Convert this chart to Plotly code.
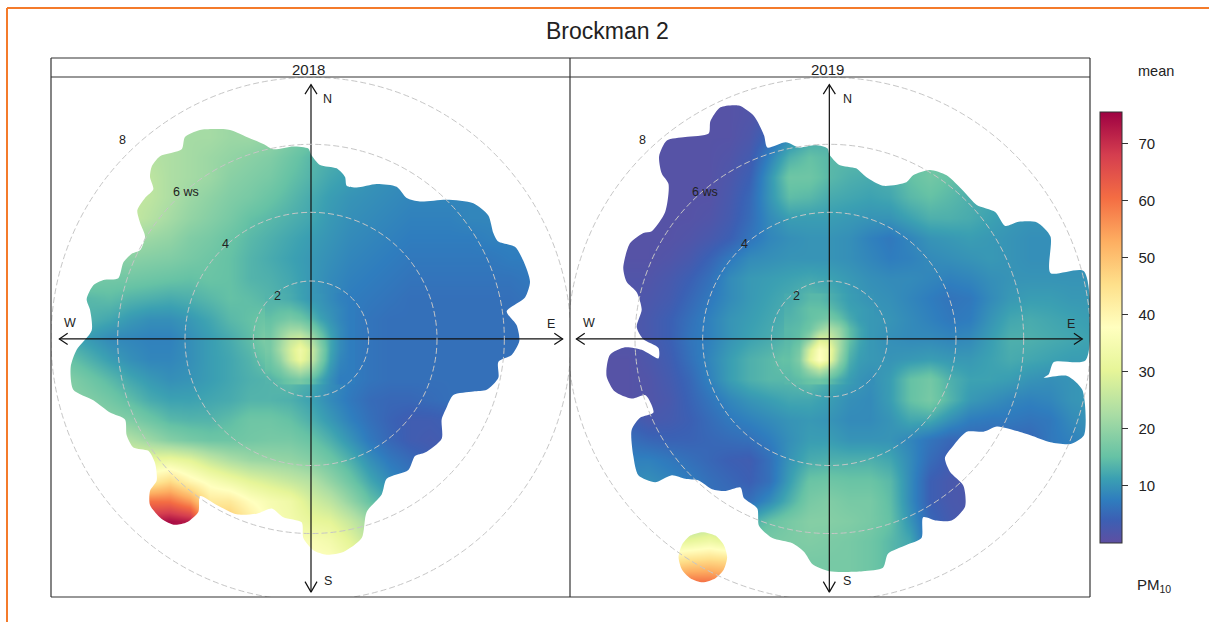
import plotly.graph_objects as go

# Grid of the two polar surfaces (chart units; 60 wide, 58 high per cell)
grid_x = [i * 60 for i in range(27)]
grid_y = [60 + i * 58 for i in range(27)]

pm10_2018 = [
 [23,23,23,23,23,23,23,22,22,21,21,20,18,16,15,14,13,12,11,10,10,10,10,10,10,10,10],
 [23,23,23,23,23,23,23,22,22,21,21,20,18,16,15,14,13,12,11,10,10,10,10,10,10,10,10],
 [23,23,23,23,23,23,23,22,22,21,21,20,18,16,15,14,13,12,11,10,10,10,10,10,10,10,10],
 [23,23,23,23,23,23,23,22,22,21,21,20,18,16,15,14,13,12,11,10,10,10,10,10,10,10,10],
 [24,24,24,24,24,24,23,22,21,20,19,18,16,14,13,12,11,10,10,9,9,9,9,9,9,9,9],
 [25,25,25,25,25,25,23,22,21,19,18,17,15,13.5,12,11,10,9.5,9,9,9,9,9,9,9,9,9],
 [26,26,26,26,26,25,23,21,19.5,18,17,15.5,14,12.5,11,10,9.5,9,8.5,8.5,8.5,8.5,8.5,8.5,8.5,8.5,8.5],
 [26,26,26,26,26,24,22,20,18.5,17,15,14,13,12,10.5,9.5,9,8.5,8,8,8,8.5,8.5,8.5,8.5,8.5,8.5],
 [22,22,22,22,22,21,20,18,17,15.5,14,13,12,11,10,9,8.5,8,7.5,7.5,7.5,7.5,8,8,8,8,8],
 [19,19,19,19,19,18.5,18,17,16,15,13.5,12.5,11.5,10.5,9.5,8.5,8,7.5,7,7,7,7,7,7.5,7.5,7.5,7.5],
 [17,17,17,16.5,16.5,16,15.5,15,15.5,15,13.5,13,12,10.5,9,8,7.5,7,6.5,6.5,6.5,6.5,6.5,6.5,7,7,7],
 [14,14,14,14.5,13.5,13,12.5,13,14,15,14.5,13.5,12.5,10.5,9,7.5,7,6.5,6,6,6,6,6,6,6.5,6.5,6.5],
 [13,13,13,12,10.5,9.5,9.5,10.5,12,14,15,16,18,14,10,7.5,6.5,6,6,6,6,6,6,6,6,6,6],
 [12,12,10.5,9,8.5,8,8,9.5,11,12.5,14.5,19,30,22,11,7.5,6.5,6,6,6,6,6,6,6,6,6,6],
 [15,15,13,11,9.5,8.5,8.5,9.5,11,12,13.5,16,33,24,10,7.5,6.5,6,6,6,6,6,6,6,6,6,6],
 [18,18,16,14,12,10.5,9.5,10,11,12,13,13.5,14.5,13,9.5,7.5,6.5,6,6,6,6,6,6,6,6,6,6],
 [19,19,18,16.5,14.5,12.5,11.5,11.5,12,12.5,13.5,13.5,13,11.5,9,7,5.5,5,5,5.5,6,6,6,6,6,6,6],
 [20,20,20,19,18,16,14,13.5,13.5,14.5,16,16,15,13,10.5,8,6,4.5,3.5,3.5,4,4,4,4,4,4,4],
 [24,24,24,24,23.5,21,18.5,17,16,16,16.5,17,17,15.5,13,10,7,5,3.5,3,3.5,4,4,4,4,4,4],
 [30,30,30,30,30,31,32,30,26,23,21,20.5,20,18.5,16,13,9.5,7,5.5,4,4,4,4,4,4,4,4],
 [40,40,40,40,40,42,46,40,36,33,30,28,26,24,20,16,12,9,7,5,5,5,5,5,5,5,5],
 [60,60,60,60,60,60,60,55,43,43,38,35,33,28,25,20,15,12,10,10,10,10,10,10,10,10,10],
 [72,72,72,72,72,72,74,72,50,50,43,36,34,31,30,26,21,15,15,15,15,15,15,15,15,15,15],
 [75,75,75,75,75,75,75,75,40,40,40,40,36,36,34,30,25,25,25,25,25,25,25,25,25,25,25],
 [75,75,75,75,75,75,75,75,40,40,40,40,38,38,37,33,25,25,25,25,25,25,25,25,25,25,25],
 [75,75,75,75,75,75,75,75,40,40,40,40,38,38,37,33,25,25,25,25,25,25,25,25,25,25,25],
 [75,75,75,75,75,75,75,75,40,40,40,40,38,38,37,33,25,25,25,25,25,25,25,25,25,25,25],
]

pm10_2019 = [
 [1,1,1,1,1,1,1,1,1,1.5,2.5,5,8,10,11,12,12,12,12,12,12,12,12,12,12,12,12],
 [1,1,1,1,1,1,1,1,1,1.5,2.5,5,8,10,11,12,12,12,12,12,12,12,12,12,12,12,12],
 [1,1,1,1,1,1,1,1,1,1.5,2.5,5,8,10,11,12,12,12,12,12,12,12,12,12,12,12,12],
 [1,1,1,1,1,1,1,1,1,2,5,9,12,13,13,14,14,14,14,14,14,14,14,14,14,14,14],
 [1,1,1,1,1,1,1,1,1.5,3,8,13,15,14,14,14,14,15,16,15,14,13,13,13,13,13,13],
 [1,1,1,1,1,1,1,1,2,4,10,16,16,14,13,12.5,13,15,16.5,15,13.5,12,12,12,12,12,12],
 [1,1,1,1,1,1,1,1,2.5,5,10,14.5,14,12.5,12,11.5,12,14,15,14,13,12,11,11,11,11,11],
 [1,1,1,1,1,1,1,1.5,3,5.5,9,11,11,11,10.5,10,10,11.5,13,13,12.5,11.5,10.5,10,10,10,10],
 [1,1,1,1,1,1,1.5,2.5,4,6.5,8.5,9.5,10,10,9.5,8,7,8.5,10,10.5,11,10.5,10,9.5,9.5,9.5,9.5],
 [1,1,1,1,1,1.5,2.5,4.5,7,9,9.5,10,10,10,9.5,8.5,7.5,8,9,9.5,10,10.5,10,9.5,9.5,9.5,9.5],
 [1.5,1.5,1.5,1.5,1.5,2.5,4,6,9,10.5,11,11.5,12,11.5,10.5,9.5,9,9,8.5,8,8.5,9.5,10,10,10,10,10],
 [1.5,1.5,1.5,1.5,2,3,5,7,9,10.5,11.5,12.5,14,13,11,10,9.5,8.5,7.5,6.5,7,9,10.5,11,11,10.5,10.5],
 [1.5,1.5,1.5,1.5,2.5,4,6,8,10,11,12,13,15,17,12.5,10.5,10,9,8,7,7.5,10,12,12.5,12,11.5,11],
 [1.5,1.5,1.5,1.5,2.5,4,6.5,8,10,11.5,12.5,14,26,25,14,10.5,9.5,9,9,8.5,9,11,13,13,12.5,12,11.5],
 [1,1,1,1,2,3.5,6,8.5,11,13,14,15.5,37,30,13,10.5,10,10.5,11,10.5,10.5,11.5,12.5,12,11.5,11,11],
 [1,1,1,1,1.5,3,5,8,11,13,14,14,15,13,11,9.5,11,15,16.5,13,11.5,11.5,11,10,9.5,10,10.5],
 [1,1,1,1,1.5,2.5,4.5,6.5,8.5,10,11,12,12,11,9.5,9,11,15,17,13.5,10.5,9.5,8.5,8,8.5,10,10.5],
 [4,4,4,4,2.5,3,4,5.5,7,8,9,10,10.5,10,9,9,10,12,12,9.5,7.5,7,7,6.5,7,9,10],
 [6,6,6,6,5,4.5,4.5,5,5.5,6,7.5,9.5,11,11,10,10,10,8.5,6.5,5,5,5,5,5,7,8,9],
 [8,8,8,8,8,7,6,5,4,3.5,6,10,12.5,13,13,13,12,9,5.5,3.5,5,5,5,5,7,8,9],
 [9,9,9,9,9.5,8.5,7.5,6,5,4,6,11,15.5,16,15.5,15.5,14,9,4,2.5,2,5,5,5,7,8,9],
 [9,9,9,9,9.5,8.5,7.5,6,6,6,9,13,17,18,17,17,14.5,9,4,2.5,2,5,5,5,7,8,9],
 [20,20,20,20,20,20,20,22,20,12,15,17,18.5,18.5,18,17,15,10,5,3,2,5,5,5,7,8,9],
 [30,30,30,30,30,30,31,33,30,17,17,17.5,18,17.5,17,16,14,12,5,3,2,5,5,5,7,8,9],
 [44,44,44,44,44,44,46,47,46,18,18,17.5,17,17,17,16,14,12,5,3,2,5,5,5,7,8,9],
 [58,58,58,58,58,58,60,60,58,18,18,17,17,17,17,16,14,12,5,3,2,5,5,5,7,8,9],
 [70,70,70,70,70,70,70,70,70,18,18,17,17,17,17,16,14,12,5,3,2,5,5,5,7,8,9],
]

# Finer reading of the calm-wind core of each panel
core_x = [660, 690, 720, 750, 780, 810, 840, 870, 900]
core_y = [698, 727, 756, 785, 814, 843, 872, 901, 930]
core_2018 = [
 [13.5,13,12.5,11.5,10.5,10,9,8,7.5],
 [14,14.5,14.5,13.5,12,10.5,9.5,8.5,7.5],
 [15,16,17,16,14,11.5,10,8.5,7.5],
 [16,19,21,21,18,14,11,9,7.5],
 [17,21,26,28,24,17,12,9,7.5],
 [17,22,28,33,28,19,12,9,7.5],
 [16,20,27,32,27,18,11.5,8.5,7.5],
 [15,17,21,24,21,15,10.5,8,7.5],
 [13.5,14.5,16,17,15,12,9.5,7.5,7.5],
]
core_2019 = [
 [12.5,13,14,14,13,12,11,10.5,10],
 [13,14,15,15,14.5,13,11.5,11,10.5],
 [13.5,14,15,16,17,15,12.5,11,10.5],
 [14,14.5,16,20,23,20,14.5,12,10.5],
 [14,15,20,29,28,22,15,12,10.5],
 [14.5,17,28,37,33,22,14,11.5,10.5],
 [15,18,30,38,32,20,13,11,10.5],
 [14.5,16,21,25,21,16,12,10.5,10],
 [14,14.5,15.5,16,14.5,12.5,11,10,9.5],
]

# Edges of the surfaces (clockwise), same chart units
edge_2018_x = [783,810,860,885,890,920,980,1040,1070,1110,1190,1270,1315,1330,1345,1395,1420,1440,1425,1370,1400,1408,1385,1345,1345,1310,1270,1210,1190,1175,1175,1125,1095,1075,1010,995,950,935,880,830,790,760,755,700,665,620,560,500,450,445,410,375,335,300,300,320,315,295,250,230,225,180,130,70,62,80,125,120,110,130,160,205,220,245,270,285,270,262,285,310,300,305,330,395,405,450,540,590,640,670,730,775]
edge_2018_y = [285,315,325,350,375,380,370,378,410,420,415,425,460,510,535,550,590,650,695,735,775,820,860,880,925,960,965,975,1010,1045,1100,1140,1150,1190,1215,1260,1310,1385,1425,1433,1420,1385,1340,1325,1300,1315,1317,1290,1265,1310,1340,1347,1330,1290,1250,1220,1170,1135,1125,1090,1045,1025,990,960,895,845,790,730,700,660,645,640,595,570,560,520,480,445,410,385,350,320,290,270,235,215,215,235,255,270,262,268]
edge_2019_x = [780,810,860,890,940,1010,1030,1080,1130,1180,1220,1275,1305,1345,1400,1440,1440,1540,1545,1450,1435,1420,1490,1535,1540,1500,1440,1380,1310,1280,1240,1190,1150,1125,1140,1180,1185,1145,1100,1060,1055,1010,955,940,880,780,730,705,670,610,570,565,525,515,470,430,390,350,310,260,210,195,190,215,255,240,230,190,140,115,125,170,220,270,270,225,205,220,205,175,165,185,225,250,290,300,280,272,295,350,420,425,455,510,555,585,595,650,690,740,775]
edge_2019_y = [285,315,325,350,375,365,345,330,345,390,430,450,490,478,480,520,625,620,875,880,915,925,920,960,1090,1115,1110,1090,1070,1065,1080,1080,1120,1155,1195,1235,1295,1335,1335,1325,1385,1405,1430,1470,1480,1480,1460,1425,1400,1385,1350,1300,1270,1240,1250,1245,1220,1215,1205,1225,1205,1150,1075,1040,1025,985,975,985,965,920,860,838,845,870,840,815,780,730,680,650,610,540,510,505,450,370,340,290,245,235,225,190,150,145,175,230,265,250,265,258,268]
island_2019_x = [402,440,465,475,465,440,402,365,340,330,340,365]
island_2019_y = [1368,1378,1405,1440,1475,1500,1512,1500,1475,1440,1405,1378]

# Wind-speed rings: label, centre and half-widths in chart units
ring_labels = ["2", "4", "6 ws", "8"]
ring_rx = [173, 378, 580, 780]
ring_ry = [166, 363, 558, 750]

years = ["2018", "2019"]
centre_x = [783, 780]
centre_y = 814
x_ranges = [[3, 1560], [6, 1558]]
y_range = [1554, 63]
lx = [[682, 525, 407, 217], [682, 527, 410, 222]]
ly = [692, 543, 392, 243]
compass = ["N", "S", "W", "E"]
compass_x = [[833, 833, 60, 1503], [833, 833, 62, 1500]]
compass_y = [125, 1508, 768, 770]
colorbar_ticks = [10, 20, 30, 40, 50, 60, 70]
colorbar_labels = ["\u200210", "\u200220", "\u200230", "\u200240", "\u200250", "\u200260", "\u200270"]

spectral = [
 [0, "#5E4FA2"], [0.055, "#3B60B4"], [0.1, "#2F7DBE"], [0.15, "#3BA0B2"], [0.2, "#66C2A5"],
 [0.3, "#ABDDA4"], [0.4, "#E6F598"], [0.5, "#FFFFBF"], [0.6, "#FEE08B"], [0.7, "#FDAE61"],
 [0.8, "#F46D43"], [0.9, "#D53E4F"], [1, "#9E0142"],
]

W, H = 1209, 622
L, R, T, B = 51, 1090, 77, 597
pw, ph = R - L, B - T
px = lambda v: (v - L) / pw
py = lambda v: (B - v) / ph

fig = go.Figure()
surfaces = [pm10_2018, pm10_2019]
cores = [core_2018, core_2019]
masks = [(edge_2018_x, edge_2018_y, [], []), (edge_2019_x, edge_2019_y, island_2019_x, island_2019_y)]
shapes, annotations = [], []

def label(text, x, y, xref="paper", yref="paper", size=15):
    annotations.append(dict(text=text, x=x, y=y, xref=xref, yref=yref, showarrow=False,
                            xanchor="center", yanchor="middle",
                            font=dict(size=size, color="#222222")))

for k in range(2):
    xa, ya = ("x", "y") if k == 0 else ("x2", "y2")
    fig.add_trace(go.Heatmap(x=grid_x, y=grid_y, z=surfaces[k], coloraxis="coloraxis",
                             zsmooth="best", xaxis=xa, yaxis=ya, hoverinfo="skip"))
    fig.add_trace(go.Heatmap(x=core_x, y=core_y, z=cores[k], coloraxis="coloraxis",
                             zsmooth="best", xaxis=xa, yaxis=ya, hoverinfo="skip"))
    x0, x1 = -300, 1900
    y0, y1 = -300, 1900
    ex, ey, ix, iy = masks[k]
    mx = [x0, x0, x1, x1, x0, None] + ex + [ex[0], None]
    my = [y0, y1, y1, y0, y0, None] + ey + [ey[0], None]
    if ix:
        mx += ix + [ix[0]]
        my += iy + [iy[0]]
    fig.add_trace(go.Scatter(x=mx, y=my, mode="lines", fill="toself", fillcolor="white",
                             line=dict(width=0, shape="spline", smoothing=0.7),
                             xaxis=xa, yaxis=ya, hoverinfo="skip", showlegend=False))
    cx = centre_x[k]
    for rx, ry in zip(ring_rx, ring_ry):
        shapes.append(dict(type="circle", xref=xa, yref=ya, x0=cx - rx, x1=cx + rx,
                           y0=centre_y - ry, y1=centre_y + ry, layer="above",
                           line=dict(color="#C6C6C6", width=1, dash="6px,3px")))
    axx = [cx-18, cx, cx+18, None, cx, cx, None, cx-18, cx, cx+18, None,
           cx-755+25, cx-755, cx-755+25, None, cx-755, cx+755, None, cx+755-25, cx+755, cx+755-25]
    axy = [112, 85, 112, None, 85, 1540, None, 1510, 1540, 1510, None,
           798, 814, 830, None, 814, 814, None, 798, 814, 830]
    fig.add_trace(go.Scatter(x=axx, y=axy, mode="lines", line=dict(color="#111111", width=1.2),
                             xaxis=xa, yaxis=ya, hoverinfo="skip", showlegend=False))
    for t, tx, ty in zip(ring_labels, lx[k], ly):
        label(t, tx, ty, xa, ya, 12.5)
    for t, tx, ty in zip(compass, compass_x[k], compass_y):
        label(t, tx, ty, xa, ya, 12.5)
    label(years[k], px([308, 827][k]), py(69), size=15)

# Frame, strip and outer border
def rule(x0, y0, x1, y1, color="#333333", width=1.2):
    shapes.append(dict(type="line", xref="paper", yref="paper", x0=px(x0), x1=px(x1),
                       y0=py(y0), y1=py(y1), layer="above", line=dict(color=color, width=width)))
rule(51, 58, 1090, 58); rule(51, 77, 1090, 77); rule(51, 597, 1090, 597)
rule(51, 58, 51, 597); rule(570, 58, 570, 597); rule(1090, 58, 1090, 597)
orange = "#F47B2B"
rule(7, 8, 1209, 8, orange, 2); rule(7, 8, 7, 622, orange, 2)

label("Brockman 2", px(607), py(31), size=23)
label("mean", px(1156), py(71), size=14.5)
label("PM<sub>10</sub>", px(1154), py(585), size=15)

fig.update_layout(
    width=W, height=H, margin=dict(l=L, r=W - R, t=T, b=H - B, autoexpand=False),
    paper_bgcolor="white", plot_bgcolor="white", showlegend=False,
    font=dict(family="Liberation Sans, Arial, sans-serif"),
    xaxis=dict(domain=[0, (570 - L) / pw], range=x_ranges[0], visible=False),
    xaxis2=dict(domain=[(570 - L) / pw, 1], range=x_ranges[1], visible=False),
    yaxis=dict(range=y_range, visible=False),
    yaxis2=dict(range=y_range, visible=False, anchor="x2"),
    coloraxis=dict(cmin=0, cmax=75.5, colorscale=spectral, colorbar=dict(
        x=px(1100), xanchor="left", xpad=0, y=py(327.5), yanchor="middle", ypad=0,
        lenmode="pixels", len=431, thicknessmode="pixels", thickness=22,
        outlinecolor="#333333", outlinewidth=1, tickmode="array", tickvals=colorbar_ticks,
        ticktext=colorbar_labels,
        ticks="outside", ticklen=6, tickcolor="#333333", tickwidth=1,
        tickfont=dict(size=15, color="#222222"))),
    shapes=shapes, annotations=annotations,
)
fig.write_html("out.html", config={"displayModeBar": False},
               post_script="document.body.style.margin='0';")
